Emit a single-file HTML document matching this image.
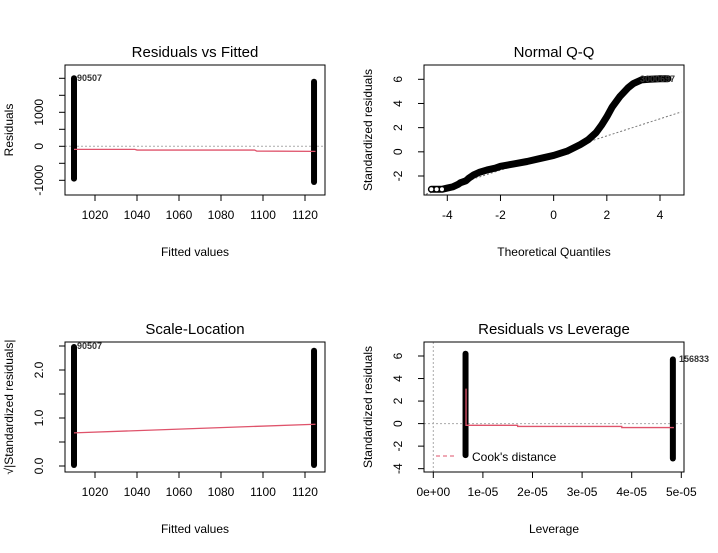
<!DOCTYPE html>
<html><head><meta charset="utf-8"><style>
body{margin:0;background:#fff}
svg{display:block;font-family:"Liberation Sans",Arial,sans-serif}
</style></head><body>
<svg id="c" width="718" height="553" viewBox="0 0 718 553"></svg>
<script>
// ---- data ----
const p1Fitted=[1010,1124.3];
const p1ResMin=[-950,-1050];
const p1ResMax=[2000,1900];
const p1SmoothX=[1010,1039,1040,1096,1097,1125];
const p1SmoothY=[-90,-90,-110,-110,-140,-150];
const p1YTicks=[-1000,-500,0,500,1000,1500,2000];
const p1YLabels=["-1000","","0","","1000","",""];
const fittedTicks=[1020,1040,1060,1080,1100,1120];

const qqTheo=[-4.6,-4.4,-4.2,-4.0,-3.8,-3.6,-3.5,-3.3,-3.2,-3.0,-2.8,-2.5,-2.2,-2.0,-1.5,-1.0,-0.5,0,0.5,1.0,1.3,1.6,1.8,2.0,2.2,2.5,2.8,3.0,3.3,3.6,4.0,4.3];
const qqStd=[-3.1,-3.1,-3.1,-3.0,-2.9,-2.7,-2.55,-2.4,-2.2,-1.9,-1.7,-1.5,-1.35,-1.2,-1.0,-0.8,-0.55,-0.3,0.05,0.6,1.0,1.6,2.2,2.9,3.7,4.6,5.3,5.65,5.95,6.0,6.05,6.05];
const qqXTicks=[-4,-2,0,2,4];
const qqYTicks=[-2,0,2,4,6];
const qqLine=[[-4.8,-3.5],[4.8,3.3]];

const p3Fitted=[1010,1124.3];
const p3Min=[0.02,0.02];
const p3Max=[2.48,2.4];
const p3SmoothX=[1010,1125];
const p3SmoothY=[0.69,0.87];
const p3YTicks=[0,0.5,1,1.5,2,2.5];
const p3YLabels=["0.0","","1.0","","2.0",""];

const levX=[6.5e-6,4.83e-5];
const levMin=[-2.8,-3.1];
const levMax=[6.2,5.7];
const levSmoothX=[6.6e-6,6.6e-6,1.7e-5,1.7e-5,3.8e-5,3.8e-5,4.85e-5];
const levSmoothY=[3.1,-0.15,-0.15,-0.25,-0.25,-0.35,-0.35];
const levXTicks=[0,1e-5,2e-5,3e-5,4e-5,5e-5];
const levXLabels=["0e+00","1e-05","2e-05","3e-05","4e-05","5e-05"];
const levYTicks=[-4,-2,0,2,4,6];

// ---- helpers ----
const svg=document.getElementById('c');
const NS='http://www.w3.org/2000/svg';
function mk(tag,attrs,parent,txt){const e=document.createElementNS(NS,tag);for(const k in attrs)e.setAttribute(k,attrs[k]);if(txt!==undefined)e.textContent=txt;(parent||svg).appendChild(e);return e;}
function lin(d0,d1,r0,r1){return v=>r0+(v-d0)*(r1-r0)/(d1-d0);}
function panel(name,box,title,xlab,ylab,sx,sy,xt,xl,yt,yl){
 const g=mk('g',{});
 
 
 const t=mk('text',{x:(box[0]+box[2])/2,y:box[1]-8,'text-anchor':'middle','font-size':15},g,title);
 
 const xa=mk('g',{},g);
 xt.forEach((v,i)=>{const x=sx(v);mk('line',{x1:x,x2:x,y1:box[3],y2:box[3]+6,stroke:'#000'},xa);
  mk('text',{x:x,y:box[3]+24,'text-anchor':'middle','font-size':12},xa,xl[i]);});
 mk('line',{x1:sx(xt[0]),x2:sx(xt[xt.length-1]),y1:box[3],y2:box[3],stroke:'#000'},xa);
 const ya=mk('g',{},g);
 yt.forEach((v,i)=>{const y=sy(v);mk('line',{x1:box[0]-6,x2:box[0],y1:y,y2:y,stroke:'#000'},ya);
  if(yl[i])mk('text',{x:box[0]-22,y:y,'text-anchor':'middle','font-size':12,transform:`rotate(-90 ${box[0]-22} ${y})`},ya,yl[i]);});
 mk('line',{x1:box[0],x2:box[0],y1:sy(yt[0]),y2:sy(yt[yt.length-1]),stroke:'#000'},ya);
 const xlT=mk('text',{x:(box[0]+box[2])/2,y:box[3]+61,'text-anchor':'middle','font-size':12},g,xlab);
 
 const yx=box[0]-52,yy=(box[1]+box[3])/2;
 const ylT=mk('text',{x:yx,y:yy,'text-anchor':'middle','font-size':12,transform:`rotate(-90 ${yx} ${yy})`},g,ylab);
 
 return g;
}
function frame(g,box){const r=mk('rect',{x:box[0],y:box[1],width:box[2]-box[0],height:box[3]-box[1],fill:'none',stroke:'#000'},g);
 }
function strips(g,sx,sy,xs,mins,maxs){xs.forEach((v,i)=>{const s=mk('line',{x1:sx(v),x2:sx(v),y1:sy(mins[i]),y2:sy(maxs[i]),stroke:'#000','stroke-width':6,'stroke-linecap':'round'},g);
 });}
function path(g,sx,sy,xs,ys,name){const d=xs.map((v,i)=>(i?'L':'M')+sx(v)+' '+sy(ys[i])).join(' ');
 const p=mk('path',{d:d,fill:'none',stroke:'#DF536B','stroke-width':1.3},g);
 }
function hdot(g,box,y){const l=mk('line',{x1:box[0],x2:box[2],y1:y,y2:y,stroke:'#aaa','stroke-dasharray':'2,2'},g);
 }
function idlab(g,x,y,txt){const t=mk('text',{x:x,y:y,'font-size':9,'font-weight':'bold',fill:'#333'},g,txt);
 }

// ---- panel 1 ----
{const box=[65,65,325,195];const sx=lin(1020,1120,95,305),sy=lin(0,1000,146.3,112.3);
 const g=panel('residuals-vs-fitted',box,'Residuals vs Fitted','Fitted values','Residuals',sx,sy,fittedTicks,fittedTicks.map(String),p1YTicks,p1YLabels);
 hdot(g,box,sy(0));strips(g,sx,sy,p1Fitted,p1ResMin,p1ResMax);path(g,sx,sy,p1SmoothX,p1SmoothY,'smooth-line');
 idlab(g,77,81,'90507');frame(g,box);}
// ---- panel 2 ----
{const box=[424,65,684,195];const sx=lin(-4,4,447.3,660),sy=lin(-2,6,176,79.3);
 const g=panel('normal-qq',box,'Normal Q-Q','Theoretical Quantiles','Standardized residuals',sx,sy,qqXTicks,qqXTicks.map(String),qqYTicks,qqYTicks.map(String));
 const q=mk('line',{x1:sx(qqLine[0][0]),y1:sy(qqLine[0][1]),x2:sx(qqLine[1][0]),y2:sy(qqLine[1][1]),stroke:'#777','stroke-dasharray':'2,2'},g);
 
 const d=qqTheo.map((v,i)=>(i?'L':'M')+sx(v)+' '+sy(qqStd[i])).join(' ');
 const c=mk('path',{d:d,fill:'none',stroke:'#000','stroke-width':7,'stroke-linecap':'round','stroke-linejoin':'round'},g);
 
 [-4.6,-4.4,-4.2].forEach(v=>{const o=mk('circle',{cx:sx(v),cy:sy(-3.1),r:2.5,fill:'#fff',stroke:'#000'},g);
  });
 idlab(g,640,82,'3000697');frame(g,box);}
// ---- panel 3 ----
{const box=[65,342,325,472];const sx=lin(1020,1120,95,305),sy=lin(0,2,466,370);
 const g=panel('scale-location',box,'Scale-Location','Fitted values','\u221A|Standardized residuals|',sx,sy,fittedTicks,fittedTicks.map(String),p3YTicks,p3YLabels);
 strips(g,sx,sy,p3Fitted,p3Min,p3Max);path(g,sx,sy,p3SmoothX,p3SmoothY,'smooth-line');
 idlab(g,77,349,'90507');frame(g,box);}
// ---- panel 4 ----
{const box=[424,342,684,472];const sx=lin(0,5e-5,433.3,681.3),sy=lin(0,6,423.6,356);
 const g=panel('residuals-vs-leverage',box,'Residuals vs Leverage','Leverage','Standardized residuals',sx,sy,levXTicks,levXLabels,levYTicks,levYTicks.map(String));
 hdot(g,box,sy(0));
 const v=mk('line',{x1:sx(0),x2:sx(0),y1:box[1],y2:box[3],stroke:'#aaa','stroke-dasharray':'2,2'},g);
 
 strips(g,sx,sy,levX,levMin,levMax);path(g,sx,sy,levSmoothX,levSmoothY,'smooth-line');
 const lg=mk('g',{},g);
 mk('line',{x1:436,x2:456,y1:456,y2:456,stroke:'#DF536B','stroke-dasharray':'4,3'},lg);
 mk('text',{x:472,y:461,'font-size':12},lg,"Cook's distance");
 idlab(g,679,362,'156833');frame(g,box);}
</script>
</body></html>
